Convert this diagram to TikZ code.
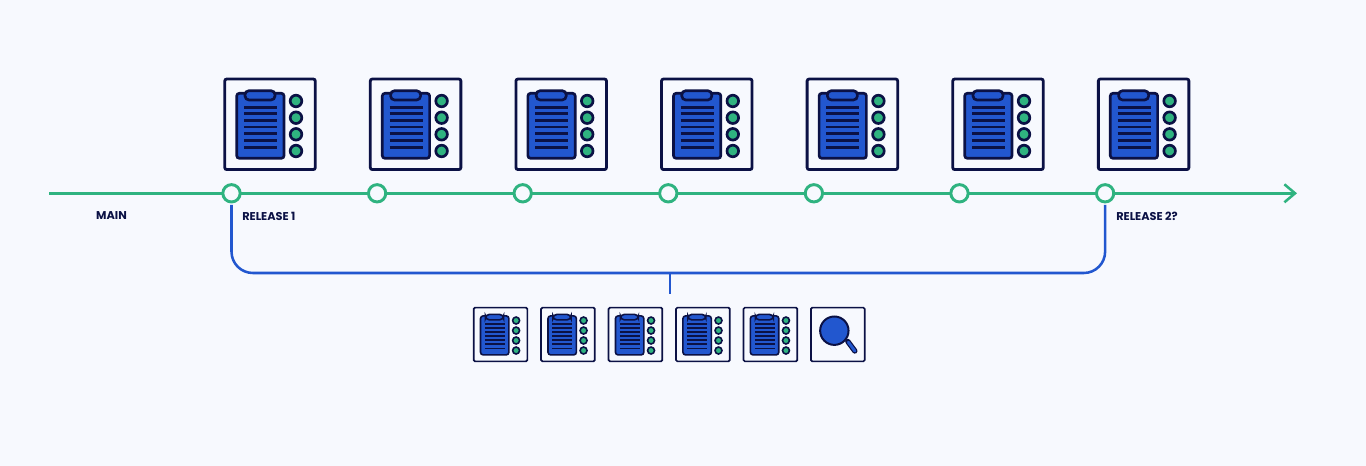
\documentclass[tikz,border=0pt]{standalone}
\usepackage{fontspec}
\setsansfont{Poppins}
\usepackage{tikz}
\usetikzlibrary{arrows.meta, positioning}
\definecolor{pagebg}{HTML}{F7F9FE}
\definecolor{navy}{HTML}{0B1145}
\definecolor{branchgreen}{HTML}{2FB380}
\definecolor{iconblue}{HTML}{2257CF}

\begin{document}
\begin{tikzpicture}[
        x=0.75pt, y=-0.75pt,
        node distance=109.2pt,
        commit/.style={circle, draw=branchgreen, fill=pagebg, line width=2.2pt, inner sep=0pt, minimum size=13pt},
        bigbox/.style={draw=navy, fill=pagebg, line width=2.1pt, rounded corners=1.5pt, inner sep=0pt, minimum size=67.9pt},
        smallbox/.style={node distance=50.6pt, draw=navy, fill=pagebg, line width=1.3pt, rounded corners=1pt, inner sep=0pt, minimum size=40.3pt},
        tag/.style={font=\sffamily\bfseries\fontsize{8.5}{10}\selectfont, text=navy, inner sep=0pt},
        mainline/.style={line width=1.9pt, draw=branchgreen, -{Straight Barb[length=8pt, width=13.5pt, line width=1.9pt]}},
        bracket/.style={line width=1.9pt, draw=iconblue, rounded corners=16pt},
        pics/clipboard/.style={code={
            \draw[line width=#1, draw=navy, fill=iconblue, rounded corners=2pt] (-33.3,-31) rectangle (14,34);
            \draw[line width=#1, draw=navy, fill=iconblue, rounded corners=3pt] (-25,-33.6) rectangle (5,-24.3);
            \foreach \ly in {-17,-10.6,-4,2.7,9.4,16,23}
                \draw[line width=#1, draw=navy] (-26,\ly) -- (7,\ly);
            \foreach \dy in {-23.3,-6.6,10,26.7}
                \draw[line width=#1, draw=navy, fill=branchgreen] (26,\dy) circle (5.8);
        }},
        pics/magnifier/.style={code={
            \draw[line width=4pt, draw=navy, line cap=round] (10,7) -- (17,16.5);
            \draw[line width=2.2pt, draw=iconblue, line cap=round] (10.5,7.7) -- (17,16.5);
            \draw[line width=#1, draw=navy, fill=iconblue] (-3.5,-3.8) circle (14.2);
        }}
    ]
        \useasboundingbox (0,0) rectangle (1366,466);
        \fill[pagebg] (0,0) rectangle (1366,466);

        \coordinate (start) at (49,193.3);
        \coordinate (end) at (1297,193.3);
        \draw[mainline] (start) -- (end);

        \node[commit] (c1) at (231.5,193.3) {};
        \node[commit, right of=c1] (c2) {};
        \node[commit, right of=c2] (c3) {};
        \node[commit, right of=c3] (c4) {};
        \node[commit, right of=c4] (c5) {};
        \node[commit, right of=c5] (c6) {};
        \node[commit, right of=c6] (c7) {};

        \node[bigbox] (b1) at (270,124.3) {};
        \node[bigbox, right of=b1] (b2) {};
        \node[bigbox, right of=b2] (b3) {};
        \node[bigbox, right of=b3] (b4) {};
        \node[bigbox, right of=b4] (b5) {};
        \node[bigbox, right of=b5] (b6) {};
        \node[bigbox, right of=b6] (b7) {};

        \pic at (b1) {clipboard=2pt};
        \pic at (b2) {clipboard=2pt};
        \pic at (b3) {clipboard=2pt};
        \pic at (b4) {clipboard=2pt};
        \pic at (b5) {clipboard=2pt};
        \pic at (b6) {clipboard=2pt};
        \pic at (b7) {clipboard=2pt};

        \node[tag] (main) at (111.5,216) {MAIN};
        \node[tag, anchor=west] (rel1) at (242,216) {RELEASE 1};
        \node[tag, anchor=west] (rel2) at (1116,216) {RELEASE 2?};

        \coordinate (mid) at (670,273);
        \coordinate (stem) at (670,294);
        \draw[bracket, shorten <=1pt, shorten >=1pt] (c1.south) |- (mid) -| (c7.south);
        \draw[line width=2.2pt, draw=iconblue] (mid) -- (stem);

        \node[smallbox] (s1) at (500.5,334.5) {};
        \node[smallbox, right of=s1] (s2) {};
        \node[smallbox, right of=s2] (s3) {};
        \node[smallbox, right of=s3] (s4) {};
        \node[smallbox, right of=s4] (s5) {};
        \node[smallbox, right of=s5] (s6) {};

        \pic[scale=0.6] at (s1) {clipboard=1.2pt};
        \pic[scale=0.6] at (s2) {clipboard=1.2pt};
        \pic[scale=0.6] at (s3) {clipboard=1.2pt};
        \pic[scale=0.6] at (s4) {clipboard=1.2pt};
        \pic[scale=0.6] at (s5) {clipboard=1.2pt};
        \pic at (s6) {magnifier=1.5pt};
    \end{tikzpicture}
\end{document}
